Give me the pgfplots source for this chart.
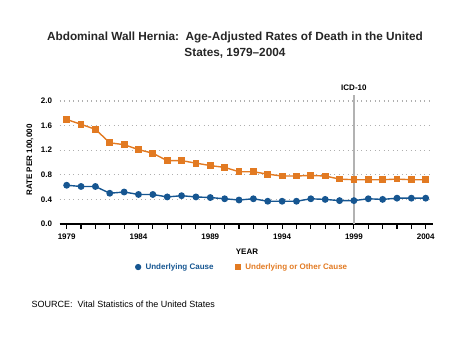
\documentclass[border=0pt]{standalone}
\usepackage{pgfplots}
\pgfplotsset{compat=1.18}
\usepackage{fontspec}
\setmainfont{Liberation Sans}
\definecolor{cblue}{RGB}{22,86,145}
\definecolor{corange}{RGB}{226,122,34}
\definecolor{gridc}{RGB}{175,175,175}
\begin{document}
\begin{tikzpicture}[x=1pt,y=1pt]
\useasboundingbox (0,0) rectangle (474,355);
\begin{axis}[
  at={(59.5pt,131pt)}, anchor=south west,
  scale only axis, width=373.4pt, height=123pt,
  xmin=1978.5, xmax=2004.5, ymin=0, ymax=2.0,
  clip=false,
  axis x line*=bottom, axis y line*=left,
  y axis line style={draw=none},
  x axis line style={line width=1.3pt,-},
  xtick={1979,1984,...,2004},
  minor xtick={1979,...,2004},
  x tick label style={/pgf/number format/1000 sep={}},
  xticklabel style={font=\bfseries\fontsize{8}{9}\selectfont, yshift=-1pt},
  yticklabel style={font=\bfseries\fontsize{8}{9}\selectfont, xshift=1pt},
  ytick={0,0.4,...,2.0},
  yticklabel={\pgfmathprintnumber[fixed,fixed zerofill,precision=1]{\tick}},
  /pgf/number format/assume math mode=true,
  tick align=outside,
  major tick length=5pt, minor tick length=5pt,
  xtick style={line width=1.1pt, black},
  minor x tick style={line width=1.1pt, black},
  ytick style={draw=none},
  ymajorgrids,
  major grid style={gridc, line width=1.1pt, dash pattern=on 1.1pt off 3.4pt},
  legend columns=2,
  legend style={at={(0.49,-0.35)}, anchor=center, draw=none, fill=none,
    font=\bfseries\fontsize{8}{9}\selectfont,
    /tikz/every odd column/.append style={column sep=3pt},
    /tikz/every even column/.append style={column sep=20pt}},
  legend image post style={only marks, mark size=2.4pt},
]
\addplot[gray!60, line width=1.3pt, forget plot] coordinates {(1999,0) (1999,2.1)};
\addplot[cblue, line width=1.4pt, mark=*, mark size=2.7pt] coordinates {
(1979,0.63)(1980,0.61)(1981,0.61)(1982,0.50)(1983,0.52)(1984,0.48)(1985,0.48)
(1986,0.44)(1987,0.46)(1988,0.44)(1989,0.43)(1990,0.41)(1991,0.39)(1992,0.41)
(1993,0.37)(1994,0.37)(1995,0.37)(1996,0.41)(1997,0.40)(1998,0.38)(1999,0.38)
(2000,0.41)(2001,0.40)(2002,0.42)(2003,0.42)(2004,0.42)};
\addlegendentry{\textcolor{cblue}{Underlying Cause}}
\addplot[corange, line width=1.4pt, mark=square*, mark size=2.7pt] coordinates {
(1979,1.70)(1980,1.62)(1981,1.54)(1982,1.32)(1983,1.29)(1984,1.21)(1985,1.15)
(1986,1.03)(1987,1.03)(1988,0.99)(1989,0.95)(1990,0.92)(1991,0.85)(1992,0.85)
(1993,0.81)(1994,0.78)(1995,0.78)(1996,0.79)(1997,0.78)(1998,0.73)(1999,0.72)
(2000,0.72)(2001,0.72)(2002,0.73)(2003,0.72)(2004,0.72)};
\addlegendentry{\textcolor{corange}{Underlying or Other Cause}}
\node[font=\bfseries\fontsize{8}{9}\selectfont] at (axis cs:1999,2.22) {ICD-10};
\end{axis}
\node[font=\bfseries\fontsize{11.8}{15.5}\selectfont, align=center, text=black!85] at (235,310)
  {Abdominal Wall Hernia:\ \ Age-Adjusted Rates of Death in the United\\States, 1979--2004};
\node[rotate=90, font=\bfseries\fontsize{8}{9}\selectfont] at (30,195) {RATE PER 100,000};
\node[font=\bfseries\fontsize{8}{9}\selectfont] at (247,103) {YEAR};
\node[anchor=west, font=\fontsize{9}{11}\selectfont] at (28,51) {SOURCE:\ \ Vital Statistics of the United States};
\end{tikzpicture}
\end{document}
